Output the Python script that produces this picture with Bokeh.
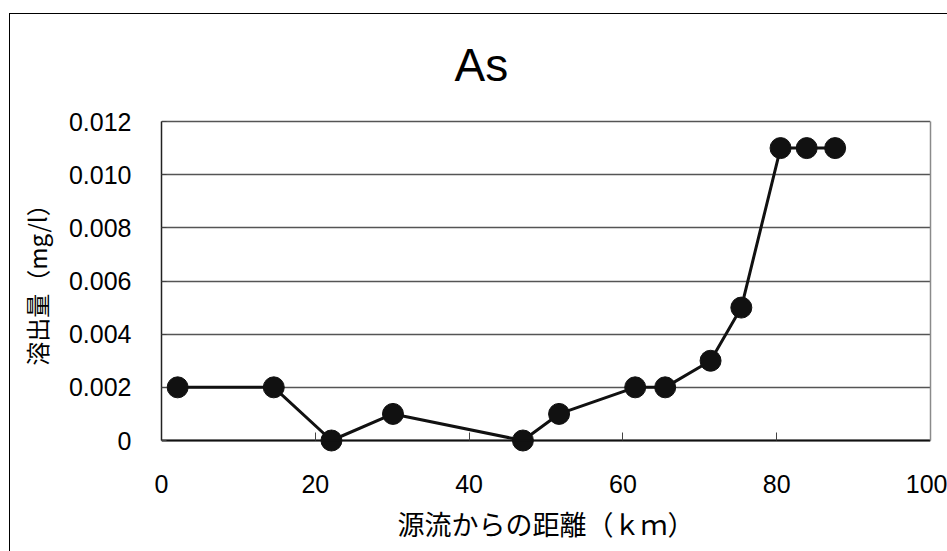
from bokeh.plotting import figure
from bokeh.layouts import column
from bokeh.models import Range1d, FixedTicker, LinearAxis
from bokeh.embed import file_html
from bokeh.resources import INLINE

# Arsenic leaching along the river, by distance from the source
dist_km = [2.1, 14.6, 22.1, 30.1, 47.0, 51.7, 61.6, 65.5, 71.4, 75.4, 80.5, 83.9, 87.6]
as_mg_l = [0.002, 0.002, 0.0, 0.001, 0.0, 0.001, 0.002, 0.002, 0.003, 0.005, 0.011, 0.011, 0.011]

x_tick_values = [0, 20, 40, 60, 80, 100]
y_tick_values = [0, 0.002, 0.004, 0.006, 0.008, 0.010, 0.012]
y_tick_labels = ["0", "0.002", "0.004", "0.006", "0.008", "0.010", "0.012"]

title_text = "As"
x_label = "源流からの距離（ｋｍ）"
y_label = "溶出量（mg/l）"

JP_FONT = "Noto Sans CJK JP"
NUM_FONT = "Liberation Sans"

Y_MAX = 0.012
PX_PER_UNIT = 319 / Y_MAX
# room above and below the value range so markers on 0 are drawn whole
PAD_TOP = 16 / PX_PER_UNIT
PAD_BOTTOM = 12 / PX_PER_UNIT

p = figure(
    width=947, height=551,
    x_range=Range1d(0, 100), y_range=Range1d(-PAD_BOTTOM, Y_MAX + PAD_TOP),
    output_backend="svg", toolbar_location=None,
    min_border_left=161, min_border_right=17,
    min_border_top=105, min_border_bottom=99,
)
p.background_fill_color = "white"
p.border_fill_color = None
p.outline_line_color = None

p.title.text = title_text
p.title.align = "left"
p.title.offset = 293
p.title.standoff = 29
p.title.text_font = NUM_FONT
p.title.text_font_size = "46px"
p.title.text_font_style = "normal"
p.title.text_color = "black"

# grid: horizontal only
p.xgrid.visible = False
p.ygrid.grid_line_color = "#555555"
p.ygrid.grid_line_width = 1.3

# x axis: labels only; line and ticks come from the zero-line axis below
xa = p.xaxis[0]
xa.ticker = FixedTicker(ticks=x_tick_values)
xa.axis_line_color = None
xa.major_tick_line_color = None
xa.minor_tick_line_color = None
xa.major_tick_in = 0
xa.major_tick_out = 0
xa.major_label_text_font = NUM_FONT
xa.major_label_text_font_size = "25px"
xa.major_label_text_color = "black"
xa.major_label_standoff = 22
xa.axis_label = x_label
xa.axis_label_text_font = JP_FONT
xa.axis_label_text_font_size = "27px"
xa.axis_label_text_font_style = "normal"
xa.axis_label_text_color = "black"
xa.axis_label_standoff = 8

# axis line and inward ticks on the zero line
zero_axis = LinearAxis(
    fixed_location=0, ticker=FixedTicker(ticks=x_tick_values),
    axis_line_color="#111111", axis_line_width=2,
    major_tick_in=8, major_tick_out=0, major_tick_line_color="#444444",
    minor_tick_line_color=None, major_label_text_color=None,
)
p.add_layout(zero_axis, "below")

# y axis
ya = p.yaxis[0]
ya.bounds = (0, Y_MAX)
ya.ticker = FixedTicker(ticks=y_tick_values)
ya.major_label_overrides = dict(zip(y_tick_values, y_tick_labels))
ya.minor_tick_line_color = None
ya.major_tick_in = 5
ya.major_tick_out = 0
ya.major_tick_line_color = "#444444"
ya.axis_line_color = "#222222"
ya.axis_line_width = 1.5
ya.major_label_text_font = NUM_FONT
ya.major_label_text_font_size = "25px"
ya.major_label_text_color = "black"
ya.major_label_standoff = 30
ya.axis_label = y_label
ya.axis_label_text_font = JP_FONT
ya.axis_label_text_font_size = "24px"
ya.axis_label_text_font_style = "normal"
ya.axis_label_text_color = "black"
ya.axis_label_standoff = 12

# plain right edge of the plot area
edge = LinearAxis(
    bounds=(0, Y_MAX), ticker=FixedTicker(ticks=[]),
    axis_line_color="#8a8a8a", axis_line_width=1.5,
    major_tick_line_color=None, minor_tick_line_color=None,
    major_label_text_color=None,
)
p.add_layout(edge, "right")

# series
p.line(dist_km, as_mg_l, line_color="#111111", line_width=3)
p.scatter(dist_km, as_mg_l, size=21, fill_color="#111111", line_color="#111111")

# chart border: thin line along the left and top edges of the page
page = column(
    p, width=947, height=551,
    styles={"box-shadow": "inset 9px 13px 0 0 white, inset 10px 14px 0 0 black",
            "background-color": "white"},
)

open("out.html", "w").write(file_html(page, INLINE))
